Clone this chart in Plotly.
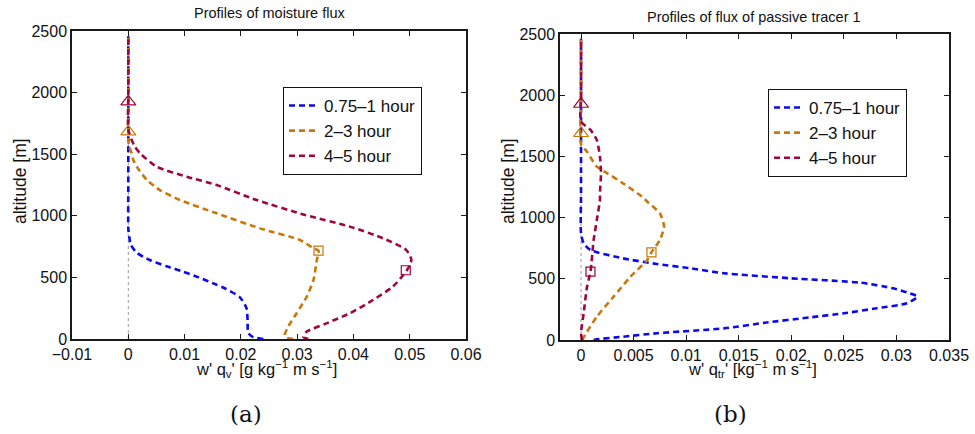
import plotly.graph_objects as go

W, H = 975, 434

# ---------------- data ----------------
series_names = ["0.75\u20131 hour", "2\u20133 hour", "4\u20135 hour"]
series_colors = ["#0a0af0", "#c8780a", "#a0063c"]

# (a) moisture flux  w'q_v'  [g kg^-1 m s^-1]
moist_alt_1 = [0, 15, 50, 150, 250, 340, 410, 440, 500, 546, 590, 641, 700, 760, 820, 900, 1200, 1600, 2000, 2460]
moist_flux_1 = [0.0240, 0.0222, 0.0213, 0.0212, 0.0210, 0.0198, 0.0172, 0.0157, 0.0125, 0.0098, 0.0068,
                0.0038, 0.0015, 0.0005, 0.0002, 0.0, 0.0, 0.0, 0.0, 0.0]
moist_alt_2 = [0, 10, 32, 100, 209, 343, 479, 641, 717, 736, 804, 898, 1020, 1128, 1209, 1291, 1399,
               1453, 1507, 1560, 1610, 1700, 2000, 2460]
moist_flux_2 = [0.0293, 0.0282, 0.0278, 0.0284, 0.0299, 0.0317, 0.0329, 0.0335, 0.0338, 0.0329, 0.0305,
                0.0234, 0.0157, 0.0092, 0.0056, 0.0033, 0.0015, 0.0009, 0.0006, 0.0002, 0.0, 0.0, 0.0, 0.0]
moist_alt_3 = [0, 16, 60, 127, 209, 317, 425, 558, 641, 722, 817, 912, 1007, 1128, 1250, 1317, 1399,
               1507, 1560, 1615, 1700, 2000, 2460]
moist_flux_3 = [0.0320, 0.0311, 0.0317, 0.0352, 0.0394, 0.0435, 0.0470, 0.0495, 0.0503, 0.0494, 0.0453,
                0.0394, 0.0314, 0.0228, 0.0157, 0.0104, 0.0050, 0.0021, 0.0012, 0.0006, 0.0, 0.0, 0.0]
moist_square_flux = [0.0338, 0.0493]
moist_square_alt = [717, 558]
moist_triangle_flux = [0.0, 0.0]
moist_triangle_alt = [1683, 1926]

# (b) passive tracer flux  w'q_tr'  [kg^-1 m s^-1]
tracer_alt_1 = [0, 5, 27, 55, 95, 141, 185, 218, 259, 300, 354, 381, 422, 468, 504, 545, 586, 621, 667,
                735, 790, 872, 1200, 2000, 2460]
tracer_flux_1 = [0.0012, 0.0015, 0.0040, 0.0072, 0.0136, 0.0175, 0.0218, 0.0250, 0.0281, 0.0310, 0.0320,
                 0.0313, 0.0297, 0.0266, 0.0200, 0.0136, 0.0104, 0.0072, 0.0040, 0.0009, 0.00025, 0.0,
                 0.0, 0.0, 0.0]
tracer_alt_2 = [0, 68, 190, 354, 517, 654, 716, 817, 926, 1035, 1130, 1171, 1280, 1362, 1416, 1538, 1600,
                2000, 2460]
tracer_flux_2 = [0.0001, 0.00057, 0.0015, 0.0031, 0.0047, 0.0063, 0.0067, 0.0075, 0.0079, 0.0075, 0.0063,
                 0.0058, 0.0040, 0.0025, 0.0015, 0.00057, 0.0, 0.0, 0.0]
tracer_alt_3 = [0, 55, 218, 435, 558, 817, 980, 1144, 1199, 1362, 1498, 1634, 1716, 1784, 2000, 2460]
tracer_flux_3 = [0.0001, 0.0, 0.00025, 0.00057, 0.0009, 0.0012, 0.0015, 0.0018, 0.0018, 0.0019, 0.0018,
                 0.0015, 0.0009, 0.0, 0.0, 0.0]
tracer_square_flux = [0.0067, 0.0009]
tracer_square_alt = [716, 558]
tracer_triangle_flux = [0.0, 0.0]
tracer_triangle_alt = [1689, 1928]

alt_ticks = [0, 500, 1000, 1500, 2000, 2500]
alt_ticktext = ["0", "500", "1000", "1500", "2000", "2500"]
moist_ticks = [-0.01, 0, 0.01, 0.02, 0.03, 0.04, 0.05, 0.06]
moist_ticktext = ["\u22120.01", "0", "0.01", "0.02", "0.03", "0.04", "0.05", "0.06"]
tracer_ticks = [0, 0.005, 0.01, 0.015, 0.02, 0.025, 0.03, 0.035]
tracer_ticktext = ["0", "0.005", "0.01", "0.015", "0.02", "0.025", "0.03", "0.035"]

# ---------------- figure ----------------
SANS = "Liberation Sans"
SERIF = "DejaVu Serif"
INK = "#111111"


def fx(p):
    return p / W


def fy(p):
    return 1 - p / H


fig = go.Figure()

panels = [
    ("x", "y", "legend",
     [(moist_flux_1, moist_alt_1), (moist_flux_2, moist_alt_2), (moist_flux_3, moist_alt_3)],
     (moist_square_flux, moist_square_alt), (moist_triangle_flux, moist_triangle_alt)),
    ("x2", "y2", "legend2",
     [(tracer_flux_1, tracer_alt_1), (tracer_flux_2, tracer_alt_2), (tracer_flux_3, tracer_alt_3)],
     (tracer_square_flux, tracer_square_alt), (tracer_triangle_flux, tracer_triangle_alt)),
]

for xa, ya, lg, curves, squares, triangles in panels:
    # zero reference line
    fig.add_trace(go.Scatter(x=[0, 0], y=[0, 2500], mode="lines", xaxis=xa, yaxis=ya,
                             line=dict(color="#999999", width=1, dash="dot"),
                             showlegend=False, hoverinfo="skip"))
    for (xv, yv), name, col in zip(curves, series_names, series_colors):
        fig.add_trace(go.Scatter(x=xv, y=yv, mode="lines", name=name, xaxis=xa, yaxis=ya,
                                 legend=lg,
                                 line=dict(color=col, width=2.6, dash="6px,4px",
                                           shape="spline", smoothing=0.6)))
    for i in range(2):
        col = series_colors[i + 1]
        fig.add_trace(go.Scatter(x=[squares[0][i]], y=[squares[1][i]], mode="markers",
                                 xaxis=xa, yaxis=ya, showlegend=False,
                                 marker=dict(symbol="square-open", size=9, color=col,
                                             line=dict(width=1.2, color=col))))
        fig.add_trace(go.Scatter(x=[triangles[0][i]], y=[triangles[1][i]], mode="markers",
                                 xaxis=xa, yaxis=ya, showlegend=False,
                                 marker=dict(symbol="triangle-up-open", size=13, color=col,
                                             line=dict(width=1.2, color=col))))

axis_common = dict(showgrid=False, zeroline=False, showline=True, linecolor="#1a1a1a", linewidth=1.5,
                   mirror="ticks", ticks="inside", ticklen=5, tickwidth=1, tickcolor="#1a1a1a",
                   automargin=False,
                   tickfont=dict(family=SANS, size=16, color=INK))

legend_common = dict(xanchor="left", yanchor="top", bgcolor="white", bordercolor=INK, borderwidth=1,
                     font=dict(family=SANS, size=17, color=INK), itemwidth=30, tracegroupgap=0)

fig.update_layout(
    width=W, height=H,
    margin=dict(l=0, r=0, t=0, b=0, autoexpand=False),
    paper_bgcolor="white", plot_bgcolor="white",
    xaxis=dict(domain=[fx(72), fx(466)], range=[-0.01, 0.06], anchor="y",
               tickvals=moist_ticks, ticktext=moist_ticktext, **axis_common),
    yaxis=dict(domain=[fy(339), fy(31)], range=[0, 2500], anchor="x",
               tickvals=alt_ticks, ticktext=alt_ticktext, **axis_common),
    xaxis2=dict(domain=[fx(560), fx(949)], range=[-0.002, 0.035], anchor="y2",
                tickvals=tracer_ticks, ticktext=tracer_ticktext, **axis_common),
    yaxis2=dict(domain=[fy(340), fy(34)], range=[0, 2500], anchor="x2",
                tickvals=alt_ticks, ticktext=alt_ticktext, **axis_common),
    legend=dict(x=fx(283), y=fy(87), **legend_common),
    legend2=dict(x=fx(768), y=fy(89), **legend_common),
    showlegend=True,
)

annotations = [
    # panel titles
    dict(text="Profiles of moisture flux", x=fx(269), y=fy(13), size=14.5),
    dict(text="Profiles of flux of passive tracer 1", x=fx(754), y=fy(17), size=14.5),
    # x-axis titles
    dict(text="w' q<sub>v</sub>' [g kg<sup>\u22121</sup> m s<sup>\u22121</sup>]", x=fx(266), y=fy(369), size=16.5),
    dict(text="w' q<sub>tr</sub>' [kg<sup>\u22121</sup> m s<sup>\u22121</sup>]", x=fx(752), y=fy(369), size=16.5),
]
for a in annotations:
    fig.add_annotation(text=a["text"], x=a["x"], y=a["y"], xref="paper", yref="paper",
                       xanchor="center", yanchor="middle", showarrow=False,
                       font=dict(family=SANS, size=a["size"], color=INK))

# y-axis titles
for xp in (20, 508):
    fig.add_annotation(text="altitude [m]", x=fx(xp), y=fy(181), xref="paper", yref="paper",
                       xanchor="center", yanchor="middle", showarrow=False, textangle=-90,
                       font=dict(family=SANS, size=17.5, color=INK))

# panel labels
for lab, xp in (("(a)", 246), ("(b)", 730)):
    fig.add_annotation(text=lab, x=fx(xp), y=fy(414), xref="paper", yref="paper",
                       xanchor="center", yanchor="middle", showarrow=False,
                       font=dict(family=SERIF, size=23, color=INK))

fig.write_html("out.html")
